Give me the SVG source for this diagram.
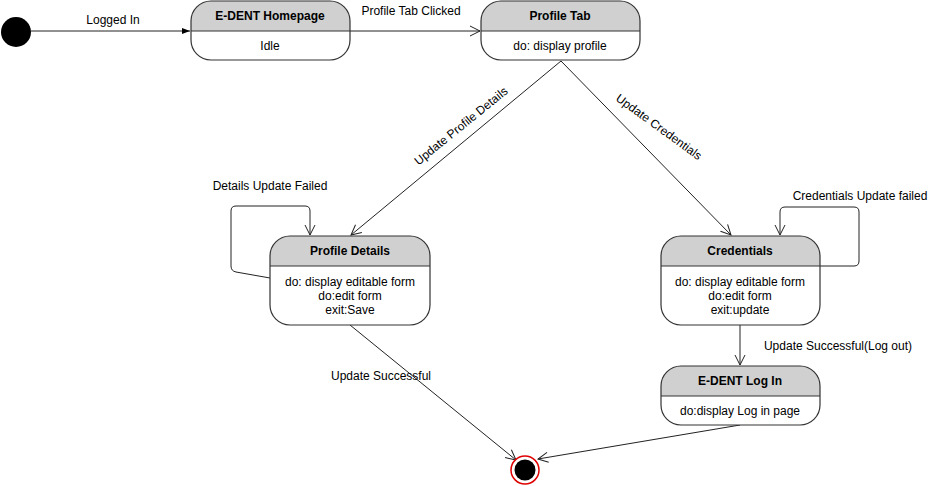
<svg xmlns="http://www.w3.org/2000/svg" width="941" height="486" viewBox="0 0 941 486">
<style>
text{font-family:"Liberation Sans",Arial,sans-serif;font-size:12px;fill:#000}
.h{font-weight:bold;text-anchor:middle}
.b{text-anchor:middle}
.box{fill:none;stroke:#333;stroke-width:1.2}
.bg{fill:#fff}
.hd{fill:#d0d0d0}
.div{stroke:#333;stroke-width:1}
.e{fill:none;stroke:#222;stroke-width:1}
</style>
<defs>
<marker id="open" markerWidth="12" markerHeight="12" refX="11" refY="6" orient="auto" markerUnits="userSpaceOnUse"><path d="M1,1 L11,6 L1,11" fill="none" stroke="#222" stroke-width="1"/></marker>
<marker id="fill" markerWidth="10" markerHeight="10" refX="9" refY="5" orient="auto" markerUnits="userSpaceOnUse"><path d="M1,2 L9,5 L1,8 Z" fill="#000"/></marker>
</defs>
<g id="connectors">
<path class="e" d="M31,31 L190,31" marker-end="url(#fill)"/>
<text x="113" y="24" class="b">Logged In</text>
<path class="e" d="M350,31 L480,31" marker-end="url(#open)"/>
<text x="411" y="15" class="b">Profile Tab Clicked</text>
<path class="e" d="M561,61 L351,235" marker-end="url(#open)"/>
<text class="b" transform="translate(461,126) rotate(-39)" y="4">Update Profile Details</text>
<path class="e" d="M561,61 L731,235" marker-end="url(#open)"/>
<text class="b" transform="translate(659,127) rotate(36)" y="4">Update Credentials</text>
<path class="e" d="M270,278 L236,272 Q231,271 231,266 L231,211 Q231,206 236,206 L305,206 Q310,206 310,211 L310,235" marker-end="url(#open)"/>
<text x="270" y="190" class="b">Details Update Failed</text>
<path class="e" d="M820,266 L854,266 Q859,266 859,261 L859,212 Q859,207 854,207 L785,207 Q780,207 780,212 L780,235" marker-end="url(#open)"/>
<text x="860" y="200" class="b">Credentials Update failed</text>
<path class="e" d="M740,325 L740,365" marker-end="url(#open)"/>
<text x="838" y="350" class="b">Update Successful(Log out)</text>
<path class="e" d="M350,325 L516,460" marker-end="url(#open)"/>
<text x="381" y="380" class="b">Update Successful</text>
<path class="e" d="M740,425 L538,459" marker-end="url(#open)"/>
</g>
<g id="initial"><circle cx="16" cy="32" r="15" fill="#000"/></g>
<g id="homepage">
<rect class="bg" x="191" y="1" width="159" height="59" rx="20"/>
<path class="hd" d="M191,31 L191,21 A20,20 0 0 1 211,1 L330,1 A20,20 0 0 1 350,21 L350,31 Z"/>
<line class="div" x1="191" y1="31" x2="350" y2="31"/>
<rect class="box" x="191" y="1" width="159" height="59" rx="20"/>
<text x="270" y="20" class="h">E-DENT Homepage</text>
<text x="270" y="50" class="b">Idle</text>
</g>
<g id="profiletab">
<rect class="bg" x="481" y="1" width="159" height="59" rx="20"/>
<path class="hd" d="M481,31 L481,21 A20,20 0 0 1 501,1 L620,1 A20,20 0 0 1 640,21 L640,31 Z"/>
<line class="div" x1="481" y1="31" x2="640" y2="31"/>
<rect class="box" x="481" y="1" width="159" height="59" rx="20"/>
<text x="560" y="20" class="h">Profile Tab</text>
<text x="560" y="50" class="b">do: display profile</text>
</g>
<g id="profiledetails">
<rect class="bg" x="270" y="236" width="160" height="89" rx="20"/>
<path class="hd" d="M270,266 L270,256 A20,20 0 0 1 290,236 L410,236 A20,20 0 0 1 430,256 L430,266 Z"/>
<line class="div" x1="270" y1="266" x2="430" y2="266"/>
<rect class="box" x="270" y="236" width="160" height="89" rx="20"/>
<text x="350" y="255" class="h">Profile Details</text>
<text x="350" y="286" class="b">do: display editable form</text>
<text x="350" y="300" class="b">do:edit form</text>
<text x="350" y="314" class="b">exit:Save</text>
</g>
<g id="credentials">
<rect class="bg" x="661" y="236" width="159" height="89" rx="20"/>
<path class="hd" d="M661,266 L661,256 A20,20 0 0 1 681,236 L800,236 A20,20 0 0 1 820,256 L820,266 Z"/>
<line class="div" x1="661" y1="266" x2="820" y2="266"/>
<rect class="box" x="661" y="236" width="159" height="89" rx="20"/>
<text x="740" y="255" class="h">Credentials</text>
<text x="740" y="286" class="b">do: display editable form</text>
<text x="740" y="300" class="b">do:edit form</text>
<text x="740" y="314" class="b">exit:update</text>
</g>
<g id="login">
<rect class="bg" x="661" y="366" width="159" height="59" rx="20"/>
<path class="hd" d="M661,396 L661,386 A20,20 0 0 1 681,366 L800,366 A20,20 0 0 1 820,386 L820,396 Z"/>
<line class="div" x1="661" y1="396" x2="820" y2="396"/>
<rect class="box" x="661" y="366" width="159" height="59" rx="20"/>
<text x="740" y="385" class="h">E-DENT Log In</text>
<text x="740" y="415" class="b">do:display Log in page</text>
</g>
<g id="final">
<circle cx="525" cy="470" r="14" fill="#fff" stroke="#e00000" stroke-width="1.5"/>
<circle cx="525" cy="470" r="10.5" fill="#000"/>
</g>
</svg>
